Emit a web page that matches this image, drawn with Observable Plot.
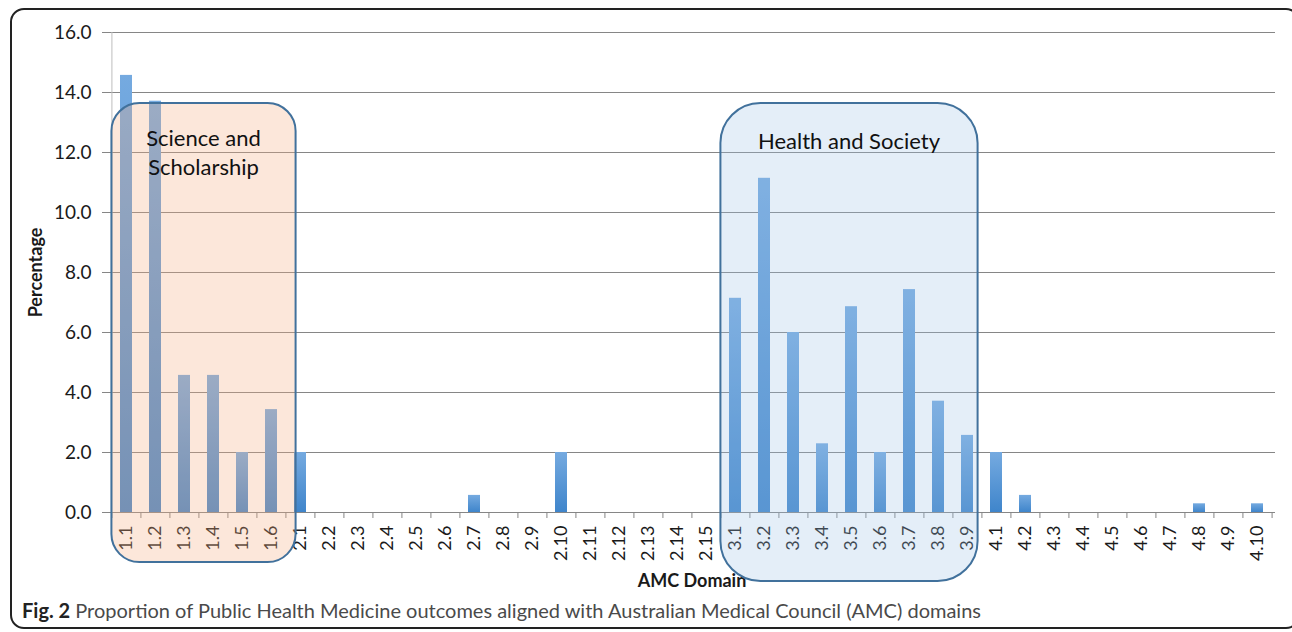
<!DOCTYPE html>
<html>
<head>
<meta charset="utf-8">
<script src="https://cdn.jsdelivr.net/npm/d3@7"></script>
<script src="https://cdn.jsdelivr.net/npm/@observablehq/plot@0.6"></script>
<style>
  html, body { margin: 0; padding: 0; background: #fff; width: 1292px; height: 632px; overflow: hidden; }
  #frame { position: absolute; left: 10px; top: 8px; width: 1290px; height: 621px; border: 2px solid #222; border-radius: 14px; box-sizing: border-box; }
  #chart { position: absolute; left: 0; top: 0; }
  #caption { position: absolute; left: 22px; top: 598px; font-family: Lato, sans-serif; font-size: 20px; color: #4a4a4a; white-space: nowrap; }
  #caption b { color: #222; }
</style>
</head>
<body>
<svg width="0" height="0" style="position:absolute">
  <defs>
    <linearGradient id="barGrad" x1="0" y1="0" x2="0" y2="1">
      <stop offset="0" stop-color="#75aae0"/>
      <stop offset="1" stop-color="#3f85cb"/>
    </linearGradient>
  </defs>
</svg>
<div id="frame"></div>
<div id="chart"></div>
<div id="caption"><b>Fig. 2</b> Proportion of Public Health Medicine outcomes aligned with Australian Medical Council (AMC) domains</div>
<script>
// ---- data ----
const categories = [
  "1.1","1.2","1.3","1.4","1.5","1.6",
  "2.1","2.2","2.3","2.4","2.5","2.6","2.7","2.8","2.9","2.10","2.11","2.12","2.13","2.14","2.15",
  "3.1","3.2","3.3","3.4","3.5","3.6","3.7","3.8","3.9",
  "4.1","4.2","4.3","4.4","4.5","4.6","4.7","4.8","4.9","4.10"
];
const percentages = [
  14.57, 13.71, 4.57, 4.57, 2.0, 3.43,
  2.0, 0, 0, 0, 0, 0, 0.57, 0, 0, 2.0, 0, 0, 0, 0, 0,
  7.14, 11.14, 6.0, 2.29, 6.86, 2.0, 7.43, 3.71, 2.57,
  2.0, 0.57, 0, 0, 0, 0, 0, 0.29, 0, 0.29
];
const yTicks = [0, 2, 4, 6, 8, 10, 12, 14, 16];
const groupLabels = [["Science and", "Scholarship"], ["Health and Society"]];
const groupFrom = ["1.1", "3.1"];
const groupTo = ["1.6", "3.9"];
const groupTop = [13.63, 13.63];
const groupBottom = [-1.67, -2.3];
const groupFill = ["#f4b183", "#9dc3e6"];
const groupFillOpacity = [0.3, 0.28];

const data = categories.map((c, i) => ({domain: c, pct: percentages[i]}));

const W = 1292, H = 590;
const mL = 108, mR = 17, mT = 32, mB = 78;
const step = (W - mL - mR) / categories.length;
const grid = "#868686";

const plot = Plot.plot({
  width: W, height: H,
  marginLeft: mL, marginRight: mR, marginTop: mT, marginBottom: mB,
  style: {fontFamily: "Lato, sans-serif", fontSize: "18px", color: "#1a1a1a", background: "transparent", overflow: "visible"},
  x: {domain: categories, paddingInner: 0.58, paddingOuter: 0.29, label: null},
  y: {domain: [0, 16], label: null},
  marks: [
    Plot.gridY(yTicks, {stroke: grid, strokeOpacity: 1}),
    Plot.ruleX([categories[0]], {y1: 0, y2: 16, dx: -step / 2, stroke: "#bdbdbd"}),
    Plot.barY(data, {x: "domain", y: "pct", fill: "url(#barGrad)"}),
    Plot.ruleY([0], {stroke: grid}),
    Plot.ruleX(categories, {y1: 0, y2: -0.2, dx: -step / 2, stroke: grid}),
    Plot.ruleX([categories[categories.length - 1]], {y1: 0, y2: -0.2, dx: step / 2, stroke: grid}),
    Plot.axisY(yTicks, {tickFormat: d => d.toFixed(1), tickSize: 6, tickPadding: 11, stroke: grid, fontSize: 19}),
    Plot.axisX({tickRotate: -90, tickSize: 0, tickPadding: 13, fontSize: 18, label: null}),
    Plot.text(["AMC Domain"], {frameAnchor: "bottom", lineAnchor: "middle", dy: 69, fontWeight: "bold", fontSize: 18}),
    Plot.text(["Percentage"], {frameAnchor: "left", textAnchor: "middle", lineAnchor: "middle", dx: -72, rotate: -90, fontWeight: "bold", fontSize: 18})
  ]
});
document.getElementById("chart").appendChild(plot);

// ---- group boxes drawn through the plot's scales ----
const xs = plot.scale("x"), ys = plot.scale("y");
const bw = xs.bandwidth;
const cellStart = c => xs.apply(c) + bw / 2 - step / 2;
const cellEnd = c => xs.apply(c) + bw / 2 + step / 2;
const rightPad = [10, -4];
const radius = [28, 40];
const textOffset = [37, 40];
const svg = d3.select(plot);
groupLabels.forEach((lines, g) => {
  const x0 = cellStart(groupFrom[g]);
  const x1 = cellEnd(groupTo[g]) + rightPad[g];
  const y0 = ys.apply(groupTop[g]);
  const y1 = ys.apply(groupBottom[g]);
  svg.append("rect")
    .attr("x", x0).attr("y", y0).attr("width", x1 - x0).attr("height", y1 - y0)
    .attr("rx", radius[g]).attr("ry", radius[g])
    .attr("fill", groupFill[g]).attr("fill-opacity", groupFillOpacity[g])
    .attr("stroke", "#41719c").attr("stroke-width", 2);
  const cx = (x0 + x1) / 2;
  lines.forEach((t, k) => {
    svg.append("text")
      .attr("x", cx).attr("y", y0 + textOffset[g] + k * 29)
      .attr("text-anchor", "middle").attr("dominant-baseline", "middle")
      .attr("font-family", "Lato, sans-serif").attr("font-size", 22).attr("fill", "#111")
      .text(t);
  });
});
</script>
</body>
</html>
